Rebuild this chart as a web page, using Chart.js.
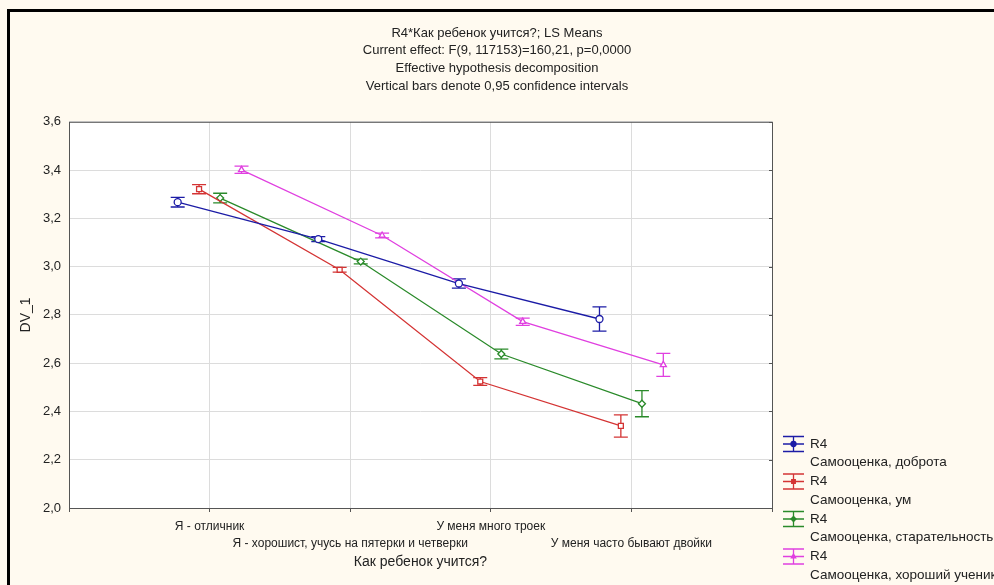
<!DOCTYPE html>
<html lang="ru">
<head>
  <meta charset="UTF-8" />
  <title>R4*Как ребенок учится?; LS Means</title>
  <script src="https://cdn.jsdelivr.net/npm/chart.js"></script>
  <style>
    html, body { margin: 0; padding: 0; background: #fffaf0; }
    #wrap { width: 994px; height: 585px; position: relative; }
  </style>
</head>
<body>
  <div id="wrap"><canvas id="chart" width="994" height="585"></canvas></div>

  <script>
    // --- данные ---
    const categories = [
      'Я - отличник',
      'Я - хорошист, учусь на пятерки и четверки',
      'У меня много троек',
      'У меня часто бывают двойки'
    ];
    const seriesNames = [
      'Самооценка, доброта',
      'Самооценка, ум',
      'Самооценка, старательность',
      'Самооценка, хороший ученик'
    ];
    const kindness  = [3.267, 3.114, 2.930, 2.783];
    const mind      = [3.321, 2.987, 2.524, 2.340];
    const diligence = [3.284, 3.021, 2.638, 2.432];
    const goodPupil = [3.401, 3.129, 2.772, 2.593];
    // половина 95% доверительного интервала
    const kindnessCI  = [0.020, 0.010, 0.019, 0.050];
    const mindCI      = [0.019, 0.010, 0.016, 0.046];
    const diligenceCI = [0.020, 0.010, 0.020, 0.054];
    const goodPupilCI = [0.015, 0.010, 0.015, 0.048];
    const yTicks = [2.0, 2.2, 2.4, 2.6, 2.8, 3.0, 3.2, 3.4, 3.6];

    // стиль серий (смещение точек внутри категории, как в Statistica)
    const colors  = ['#1c1ca6', '#d43434', '#2a8a2a', '#e040e0'];
    const shapes  = ['circle', 'rect', 'rectRot', 'triangle'];
    const offsets = [-0.227, -0.075, 0.075, 0.227];
    const values  = [kindness, mind, diligence, goodPupil];
    const errors  = [kindnessCI, mindCI, diligenceCI, goodPupilCI];

    const FONT = 'Liberation Sans, Arial, sans-serif';

    const datasets = values.map((vals, s) => ({
      label: 'R4 ' + seriesNames[s],
      data: vals.map((v, i) => ({ x: i + 1 + offsets[s], y: v })),
      errs: errors[s],
      showLine: true,
      borderColor: colors[s],
      borderWidth: 1.3,
      pointStyle: shapes[s],
      pointRadius: 3.5,
      pointBorderWidth: 1.3,
      pointBorderColor: colors[s],
      pointBackgroundColor: '#ffffff',
      tension: 0
    }));

    // фон, рамка и белое поле графика
    const backgroundPlugin = {
      id: 'background',
      beforeDraw(chart) {
        const { ctx, chartArea: a } = chart;
        ctx.save();
        ctx.fillStyle = '#fffaf0';
        ctx.fillRect(0, 0, chart.width, chart.height);
        ctx.strokeStyle = '#000';
        ctx.lineWidth = 3;
        ctx.strokeRect(8.5, 10.5, chart.width + 10, chart.height + 10);
        ctx.fillStyle = '#ffffff';
        ctx.fillRect(a.left, a.top, a.right - a.left, a.bottom - a.top);
        ctx.restore();
      },
      afterDatasetsDraw(chart) {
        const { ctx, chartArea: a } = chart;
        ctx.save();
        ctx.strokeStyle = '#555';
        ctx.lineWidth = 1;
        ctx.strokeRect(a.left + 0.5, a.top + 0.5, a.right - a.left, a.bottom - a.top);
        // мелкие засечки справа
        const y = chart.scales.y;
        yTicks.forEach(t => {
          const py = Math.round(y.getPixelForValue(t)) + 0.5;
          ctx.beginPath();
          ctx.moveTo(a.right - 3, py);
          ctx.lineTo(a.right + 1, py);
          ctx.stroke();
        });
        ctx.restore();
      }
    };

    // вертикальные планки доверительных интервалов
    const errorBarPlugin = {
      id: 'errorBars',
      beforeDatasetsDraw(chart) {
        const { ctx } = chart;
        const xs = chart.scales.x, ys = chart.scales.y;
        ctx.save();
        chart.data.datasets.forEach(ds => {
          ctx.strokeStyle = ds.borderColor;
          ctx.lineWidth = 1.3;
          ds.data.forEach((p, i) => {
            const px = xs.getPixelForValue(p.x);
            const top = ys.getPixelForValue(p.y + ds.errs[i]);
            const bot = ys.getPixelForValue(p.y - ds.errs[i]);
            ctx.beginPath();
            ctx.moveTo(px, top); ctx.lineTo(px, bot);
            ctx.moveTo(px - 7, top); ctx.lineTo(px + 7, top);
            ctx.moveTo(px - 7, bot); ctx.lineTo(px + 7, bot);
            ctx.stroke();
          });
        });
        ctx.restore();
      }
    };

    // легенда справа внизу: две строки на серию
    const legendPlugin = {
      id: 'sideLegend',
      afterDraw(chart) {
        const { ctx, chartArea: a } = chart;
        ctx.save();
        ctx.font = '13.5px ' + FONT;
        ctx.textBaseline = 'middle';
        ctx.textAlign = 'left';
        chart.data.datasets.forEach((ds, s) => {
          const y = 444 + s * 37.5;
          const x0 = a.right + 11, x1 = a.right + 32, cx = (x0 + x1) / 2;
          ctx.strokeStyle = ds.borderColor;
          ctx.fillStyle = ds.borderColor;
          ctx.lineWidth = 1.3;
          ctx.beginPath();
          ctx.moveTo(x0, y); ctx.lineTo(x1, y);
          ctx.moveTo(cx, y - 7.5); ctx.lineTo(cx, y + 7.5);
          ctx.moveTo(x0, y - 7.5); ctx.lineTo(x1, y - 7.5);
          ctx.moveTo(x0, y + 7.5); ctx.lineTo(x1, y + 7.5);
          ctx.stroke();
          Chart.helpers.drawPoint(ctx, { pointStyle: ds.pointStyle, radius: 2.5, borderWidth: 1 }, cx, y);
          ctx.fill();
          ctx.fillStyle = '#222';
          ctx.fillText('R4', x1 + 6, y);
          ctx.fillText(seriesNames[s], x1 + 6, y + 18.5);
        });
        ctx.restore();
      }
    };

    new Chart(document.getElementById('chart'), {
      type: 'scatter',
      data: { datasets },
      plugins: [backgroundPlugin, errorBarPlugin, legendPlugin],
      options: {
        responsive: false,
        animation: false,
        layout: { padding: 0 },
        plugins: {
          legend: { display: false },
          tooltip: { enabled: false },
          title: {
            display: true,
            text: [
              'R4*Как ребенок учится?; LS Means',
              'Current effect: F(9, 117153)=160,21, p=0,0000',
              'Effective hypothesis decomposition',
              'Vertical bars denote 0,95 confidence intervals'
            ],
            color: '#222',
            font: { family: FONT, size: 13, weight: 'normal', lineHeight: 1.35 },
            padding: { top: 24.5, bottom: 27.1 }
          }
        },
        scales: {
          x: {
            type: 'linear',
            min: 0,
            max: 5,
            afterFit(scale) { scale.height = 77; },
            afterBuildTicks(scale) {
              scale.ticks = [0, 1, 2, 3, 4, 5].map(v => ({ value: v }));
            },
            grid: { color: '#dcdcdc', tickLength: 4, drawTicks: true, tickColor: '#555' },
            border: { display: false },
            ticks: {
              autoSkip: false,
              maxRotation: 0,
              minRotation: 0,
              padding: 6,
              color: '#222',
              font: { family: FONT, size: 12, lineHeight: 1.42 },
              callback(v) {
                const label = categories[v - 1];
                if (!label) return '';
                return (v % 2 === 1) ? [label, ''] : ['', label];
              }
            },
            title: {
              display: true,
              text: 'Как ребенок учится?',
              color: '#222',
              font: { family: FONT, size: 14 },
              padding: { top: 0, bottom: 14 }
            }
          },
          y: {
            min: 2.0,
            max: 3.6,
            afterFit(scale) { scale.width = 69; },
            afterBuildTicks(scale) {
              scale.ticks = yTicks.map(v => ({ value: v }));
            },
            grid: { color: '#dcdcdc', drawTicks: false },
            border: { display: false },
            ticks: {
              padding: 8,
              color: '#222',
              font: { family: FONT, size: 13 },
              callback: v => v.toFixed(1).replace('.', ',')
            },
            title: {
              display: true,
              text: 'DV_1',
              color: '#222',
              font: { family: FONT, size: 14 },
              padding: { top: 18, bottom: 0 }
            }
          },
          // пустая ось справа - место под легенду
          legendSpace: {
            type: 'linear',
            position: 'right',
            min: 0,
            max: 1,
            afterFit(scale) { scale.width = 222; },
            grid: { display: false },
            border: { display: false },
            ticks: { display: false }
          }
        }
      }
    });
  </script>
</body>
</html>
